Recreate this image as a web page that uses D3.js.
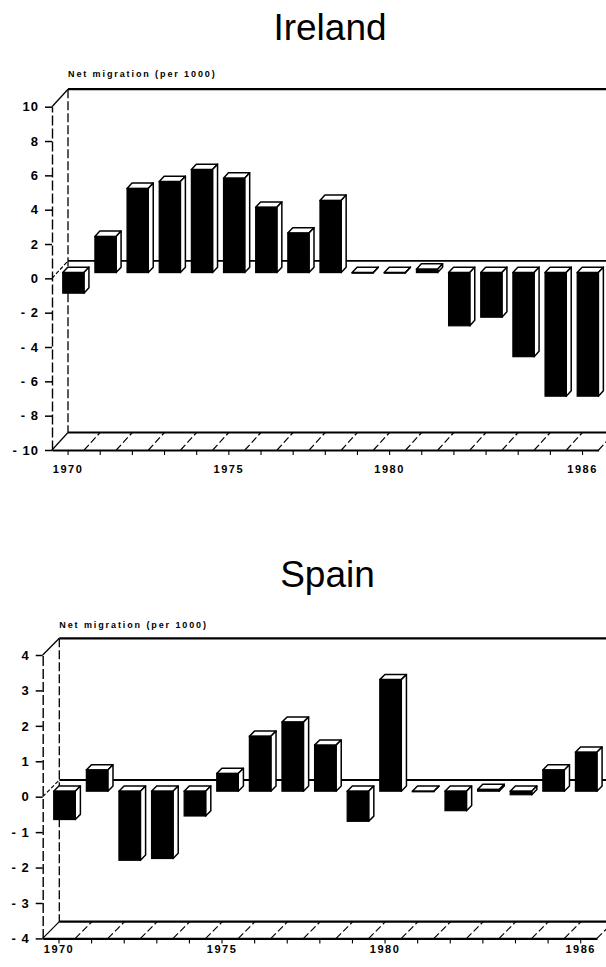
<!DOCTYPE html>
<html>
<head>
<meta charset="utf-8">
<script src="https://cdn.jsdelivr.net/npm/d3@7"></script>
<style>
  html, body { margin: 0; padding: 0; background: #fff; }
  svg { display: block; }
  text { font-family: "Liberation Sans", Arial, Helvetica, sans-serif; fill: #000; }
</style>
</head>
<body>
<svg id="chart" width="606" height="967"></svg>
<script>
// Net migration per 1000 inhabitants, 1970-1986
const years = [1970, 1971, 1972, 1973, 1974, 1975, 1976, 1977, 1978,
               1979, 1980, 1981, 1982, 1983, 1984, 1985, 1986];
const yearLabels = [1970, 1975, 1980, 1986];
const irelandValues = [-1.2, 2.1, 4.9, 5.3, 6.0, 5.5, 3.8, 2.3, 4.2,
                       0.0, 0.0, 0.2, -3.1, -2.6, -4.9, -7.2, -7.2];
const spainValues = [-0.8, 0.6, -1.95, -1.9, -0.7, 0.5, 1.55, 1.95, 1.3,
                     -0.85, 3.15, 0.0, -0.55, 0.05, -0.1, 0.6, 1.1];
const irelandTicks = [-10, -8, -6, -4, -2, 0, 2, 4, 6, 8, 10];
const spainTicks = [-4, -3, -2, -1, 0, 1, 2, 3, 4];
const axisTitle = "Net migration (per 1000)";

const panels = [
  { title: "Ireland", values: irelandValues, ticks: irelandTicks, domain: [-10, 10],
    left: 52, right: 598.6, top: 106.7, bottom: 450, depthX: 16, depthY: 17.5,
    titleX: 330, titleY: 40, noteY: 77, labelY: 472.5 },
  { title: "Spain", values: spainValues, ticks: spainTicks, domain: [-4, 4],
    left: 42.7, right: 597, top: 655, bottom: 938.4, depthX: 16.6, depthY: 16.7,
    titleX: 327.5, titleY: 587, noteY: 628, labelY: 953 }
];

const svg = d3.select("#chart");
const WIDTH = 606;

// depth of the bar faces as a fraction of the floor depth
const FRONT = 0.33, BACK = 0.64, FACE = 0.66;

function line(g, x1, y1, x2, y2, w, dash) {
  const l = g.append("line")
    .attr("x1", x1).attr("y1", y1).attr("x2", x2).attr("y2", y2)
    .attr("stroke", "#000").attr("stroke-width", w);
  if (dash) l.attr("stroke-dasharray", dash);
  return l;
}

function drawPanel(p) {
  const g = svg.append("g");
  const x = d3.scaleBand().domain(years).range([p.left, p.right]);
  const y = d3.scaleLinear().domain(p.domain).range([p.bottom, p.top]);
  const dx = p.depthX, dy = p.depthY;
  const bw = x.bandwidth();
  const yMin = y(p.domain[0]), yMax = y(p.domain[1]), y0 = y(0);
  const backX = p.left + dx;

  // title and value-axis caption
  g.append("text").attr("x", p.titleX).attr("y", p.titleY)
    .attr("text-anchor", "middle").style("font-size", "37px").text(p.title);
  g.append("text").attr("x", backX).attr("y", p.noteY)
    .style("font-size", "9px").style("font-weight", "bold")
    .style("letter-spacing", "1.9px").text(axisTitle);

  // back wall
  line(g, backX, yMax - dy, WIDTH + 10, yMax - dy, 2.2);
  line(g, backX, yMax - dy, backX, yMin - dy, 1.3, "9,3");
  line(g, backX, yMin - dy, p.right + dx, yMin - dy, 2.2);
  line(g, backX, y0 - dy, p.right + dx, y0 - dy, 1.8);

  // floor: slashes at every category boundary
  for (let k = 0; k <= years.length; k++) {
    const bx = p.left + k * bw;
    line(g, bx, yMin, bx + dx, yMin - dy, 1.2, k === 0 ? null : "7,3");
  }

  // left side of the box
  line(g, p.left, yMax, backX, yMax - dy, 1.3);
  line(g, p.left, y0, backX, y0 - dy, 1.2, "4,2");

  // bars
  const fx = d => x(d.year) + (bw - bw * FACE) / 2 + FRONT * dx;
  const fw = bw * FACE;
  const sx = (BACK - FRONT) * dx, sy = (BACK - FRONT) * dy;
  const bars = p.values.map((v, i) => ({ year: years[i], value: v }));

  const bar = g.append("g").selectAll("g").data(bars).join("g");
  const topY = d => y(Math.max(d.value, 0)) - FRONT * dy;
  const botY = d => y(Math.min(d.value, 0)) - FRONT * dy;

  // top face
  bar.append("path")
    .attr("d", d => {
      const l = fx(d), t = topY(d);
      return `M${l},${t}L${l + fw},${t}L${l + fw + sx},${t - sy}L${l + sx},${t - sy}Z`;
    })
    .attr("fill", "#fff").attr("stroke", "#000").attr("stroke-width", 1.5)
    .attr("stroke-linejoin", "round");
  // side face
  bar.append("path")
    .attr("d", d => {
      const r = fx(d) + fw, t = topY(d), b = botY(d);
      return `M${r},${t}L${r + sx},${t - sy}L${r + sx},${b - sy}L${r},${b}Z`;
    })
    .attr("fill", "#fff").attr("stroke", "#000").attr("stroke-width", 1.5)
    .attr("stroke-linejoin", "round");
  // front face
  bar.append("rect")
    .attr("x", fx).attr("y", topY).attr("width", fw)
    .attr("height", d => Math.max(botY(d) - topY(d), 0.6))
    .attr("fill", "#000").attr("stroke", "#000").attr("stroke-width", 1.2);

  // category axis on the front edge of the floor
  const xAxis = d3.axisBottom(x).tickSize(5).tickSizeOuter(0).tickPadding(4)
    .tickFormat(d => yearLabels.includes(d) ? String(d) : "");
  const xg = g.append("g").attr("transform", `translate(0,${yMin})`).call(xAxis);
  xg.select(".domain").attr("stroke", "#000").attr("stroke-width", 2.2);
  xg.selectAll(".tick line").attr("stroke", "#000").attr("stroke-width", 1.1);
  xg.selectAll(".tick text").attr("y", null).attr("dy", null)
    .attr("transform", `translate(0,${p.labelY - yMin})`)
    .style("font-size", "11px").style("font-weight", "bold")
    .style("letter-spacing", "1.5px").style("font-family", "'Liberation Sans', Arial, sans-serif");

  // value axis on the front-left edge
  const yAxis = d3.axisLeft(y).tickValues(p.ticks).tickSize(7).tickSizeOuter(0).tickPadding(6)
    .tickFormat(d => d < 0 ? "- " + Math.abs(d) : String(d));
  const yg = g.append("g").attr("transform", `translate(${p.left},0)`).call(yAxis);
  yg.select(".domain").attr("stroke", "#000").attr("stroke-width", 1.4)
    .attr("stroke-dasharray", "10,3");
  yg.selectAll(".tick line").attr("stroke", "#000").attr("stroke-width", 1.5);
  yg.selectAll(".tick text")
    .style("font-size", "13px").style("font-weight", "bold")
    .style("letter-spacing", "1px").style("font-family", "'Liberation Sans', Arial, sans-serif");
}

panels.forEach(drawPanel);
</script>
</body>
</html>
